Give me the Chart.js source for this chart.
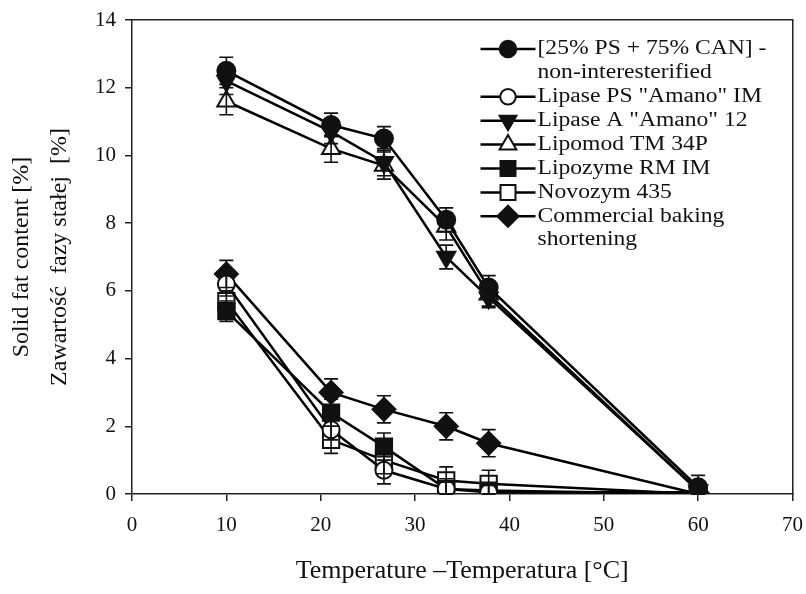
<!DOCTYPE html>
<html>
<head>
<meta charset="utf-8">
<script src="https://cdn.jsdelivr.net/npm/chart.js@4.4.1/dist/chart.umd.min.js"></script>
<style>
  html, body { margin: 0; padding: 0; background: #fff; }
  #wrap { width: 806px; height: 594px; }
</style>
</head>
<body>
<div id="wrap"><canvas id="myChart" width="806" height="594"></canvas></div>
<script>
// temperatures [°C]
const temps = [10, 21.1, 26.7, 33.3, 37.8, 60];

// solid fat content [%] and SD for each fat
const blend = [12.5, 10.9, 10.5, 8.1, 6.1, 0.2];
const blendErr = [0.4, 0.35, 0.35, 0.35, 0.35, 0.35];
const lipasePS = [6.2, 1.9, 0.7, 0.15, 0.05, 0.05];
const lipasePSErr = [0.35, 0.3, 0.4, 0.3, 0.2, 0.2];
const lipaseA = [12.2, 10.7, 9.8, 7.0, 5.8, 0.1];
const lipaseAErr = [0.4, 0.35, 0.4, 0.35, 0.3, 0.2];
const lipomod = [11.6, 10.2, 9.7, 7.9, 5.9, 0.1];
const lipomodErr = [0.4, 0.4, 0.4, 0.4, 0.35, 0.2];
const lipozyme = [5.4, 2.4, 1.4, 0.15, 0.1, 0.0];
const lipozymeErr = [0.3, 0.4, 0.4, 0.2, 0.2, 0.2];
const novozym = [5.7, 1.6, 1.0, 0.4, 0.3, 0.0];
const novozymErr = [0.3, 0.4, 0.4, 0.4, 0.4, 0.2];
const commercial = [6.5, 3.0, 2.5, 2.0, 1.5, 0.0];
const commercialErr = [0.4, 0.4, 0.4, 0.4, 0.4, 0.2];

const seriesLabels = [
  ["[25% PS + 75% CAN] -", "non-interesterified"],
  ['Lipase PS "Amano" IM'],
  ['Lipase A "Amano" 12'],
  ["Lipomod TM 34P"],
  ["Lipozyme RM IM"],
  ["Novozym 435"],
  ["Commercial baking", "shortening"]
];

const xTicks = [0, 10, 20, 30, 40, 50, 60, 70];
const yTicks = [0, 2, 4, 6, 8, 10, 12, 14];

const serif = "'Liberation Serif', 'Times New Roman', serif";

function pts(values) {
  return values.map((v, i) => ({ x: temps[i], y: v }));
}

function makeSet(i, values, errs, style, filled, size, rotation) {
  return {
    label: seriesLabels[i].join(" "),
    data: pts(values),
    errors: errs,
    borderColor: "#000",
    borderWidth: 2.5,
    pointStyle: style,
    pointRadius: size,
    pointHoverRadius: size,
    pointRotation: rotation || 0,
    pointBackgroundColor: filled ? "#111" : "#fff",
    pointBorderColor: "#111",
    pointBorderWidth: 2,
    tension: 0,
    fill: false
  };
}

const datasets = [
  makeSet(0, blend, blendErr, "circle", true, 9),
  makeSet(1, lipasePS, lipasePSErr, "circle", false, 8.5),
  makeSet(2, lipaseA, lipaseAErr, "triangle", true, 10.5, 180),
  makeSet(3, lipomod, lipomodErr, "triangle", false, 10.5),
  makeSet(4, lipozyme, lipozymeErr, "rect", true, 11.5),
  makeSet(5, novozym, novozymErr, "rect", false, 11.5),
  makeSet(6, commercial, commercialErr, "rectRot", true, 11.5)
];

// error bars drawn through the chart scales
const errorBars = {
  id: "errorBars",
  afterDatasetsDraw(chart) {
    const { ctx, scales: { x, y } } = chart;
    ctx.save();
    ctx.strokeStyle = "#111";
    ctx.lineWidth = 1.6;
    chart.data.datasets.forEach((ds) => {
      ds.data.forEach((p, i) => {
        const e = ds.errors[i];
        const px = x.getPixelForValue(p.x);
        const top = y.getPixelForValue(p.y + e);
        const bot = y.getPixelForValue(Math.max(0, p.y - e));
        ctx.beginPath();
        ctx.moveTo(px, top); ctx.lineTo(px, bot);
        ctx.moveTo(px - 7, top); ctx.lineTo(px + 7, top);
        ctx.moveTo(px - 7, bot); ctx.lineTo(px + 7, bot);
        ctx.stroke();
      });
    });
    ctx.restore();
  }
};

// legend inside the plot, top right, with two-line labels
// (the original lettering is set wide, so the text is stretched a little)
const insideLegend = {
  id: "insideLegend",
  afterDraw(chart) {
    const { ctx, chartArea } = chart;
    const x0 = chartArea.right - 312;
    const lineLen = 55;
    const rowH = 23.9;
    let row = 0;
    ctx.save();
    ctx.font = "20px " + serif;
    ctx.textBaseline = "middle";
    ctx.textAlign = "left";
    chart.data.datasets.forEach((ds, i) => {
      const yy = chartArea.top + 29 + row * rowH;
      ctx.strokeStyle = "#000";
      ctx.lineWidth = 2.5;
      ctx.beginPath();
      ctx.moveTo(x0, yy); ctx.lineTo(x0 + lineLen, yy);
      ctx.stroke();
      ctx.fillStyle = ds.pointBackgroundColor;
      ctx.strokeStyle = ds.pointBorderColor;
      ctx.lineWidth = ds.pointBorderWidth;
      Chart.helpers.drawPoint(ctx, {
        pointStyle: ds.pointStyle,
        radius: ds.pointRadius * 0.92,
        rotation: ds.pointRotation,
        borderWidth: ds.pointBorderWidth
      }, x0 + lineLen / 2, yy);
      ctx.fillStyle = "#111";
      seriesLabels[i].forEach((t) => {
        ctx.save();
        ctx.translate(x0 + lineLen + 2, chartArea.top + 29 + row * rowH);
        ctx.scale(1.18, 1);
        ctx.fillText(t, 0, 0);
        ctx.restore();
        row++;
      });
    });
    ctx.restore();
  }
};

new Chart(document.getElementById("myChart").getContext("2d"), {
  type: "line",
  data: { datasets },
  options: {
    responsive: false,
    animation: false,
    layout: { padding: { top: 20, right: 9, left: 0, bottom: 0 } },
    plugins: { legend: { display: false }, tooltip: { enabled: false } },
    scales: {
      x: {
        type: "linear",
        min: 0, max: 70,
        afterBuildTicks: (s) => { s.ticks = xTicks.map((v) => ({ value: v })); },
        afterFit: (s) => { s.height = 100; s.paddingLeft = 0; s.paddingRight = 0; },
        grid: { display: true, drawOnChartArea: false, drawTicks: true, tickLength: 7, color: "#222", lineWidth: 1.5 },
        border: { display: true, color: "#222", width: 1.5 },
        ticks: { color: "#111", padding: 12, maxRotation: 0, font: { family: serif, size: 21 } },
        title: {
          display: true,
          text: "Temperature \u2013Temperatura [\u00b0C]",
          color: "#111",
          font: { family: serif, size: 26 },
          padding: { top: 0, bottom: 7 }
        }
      },
      y: {
        min: 0, max: 14,
        afterBuildTicks: (s) => { s.ticks = yTicks.map((v) => ({ value: v })); },
        afterFit: (s) => { s.width = 132; s.paddingTop = 0; s.paddingBottom = 0; },
        grid: { display: true, drawOnChartArea: false, drawTicks: true, tickLength: 7, color: "#222", lineWidth: 1.5 },
        border: { display: true, color: "#222", width: 1.5 },
        ticks: { color: "#111", padding: 9, font: { family: serif, size: 21 } },
        title: {
          display: true,
          text: ["Solid fat content [%]", "Zawarto\u015b\u0107  fazy sta\u0142ej  [%]"],
          color: "#111",
          font: { family: serif, size: 24, lineHeight: 1.58 },
          padding: { top: 3, bottom: 0 }
        }
      },
      xTop: {
        type: "linear", position: "top", min: 0, max: 70,
        afterFit: (s) => { s.height = 0; s.paddingLeft = 0; s.paddingRight = 0; },
        grid: { display: true, drawOnChartArea: false, drawTicks: false },
        border: { display: true, color: "#222", width: 1.5 },
        ticks: { display: false }
      },
      yRight: {
        type: "linear", position: "right", min: 0, max: 14,
        afterFit: (s) => { s.width = 0; s.paddingTop = 0; s.paddingBottom = 0; },
        grid: { display: true, drawOnChartArea: false, drawTicks: false },
        border: { display: true, color: "#222", width: 1.5 },
        ticks: { display: false }
      }
    }
  },
  plugins: [errorBars, insideLegend]
});
</script>
</body>
</html>
